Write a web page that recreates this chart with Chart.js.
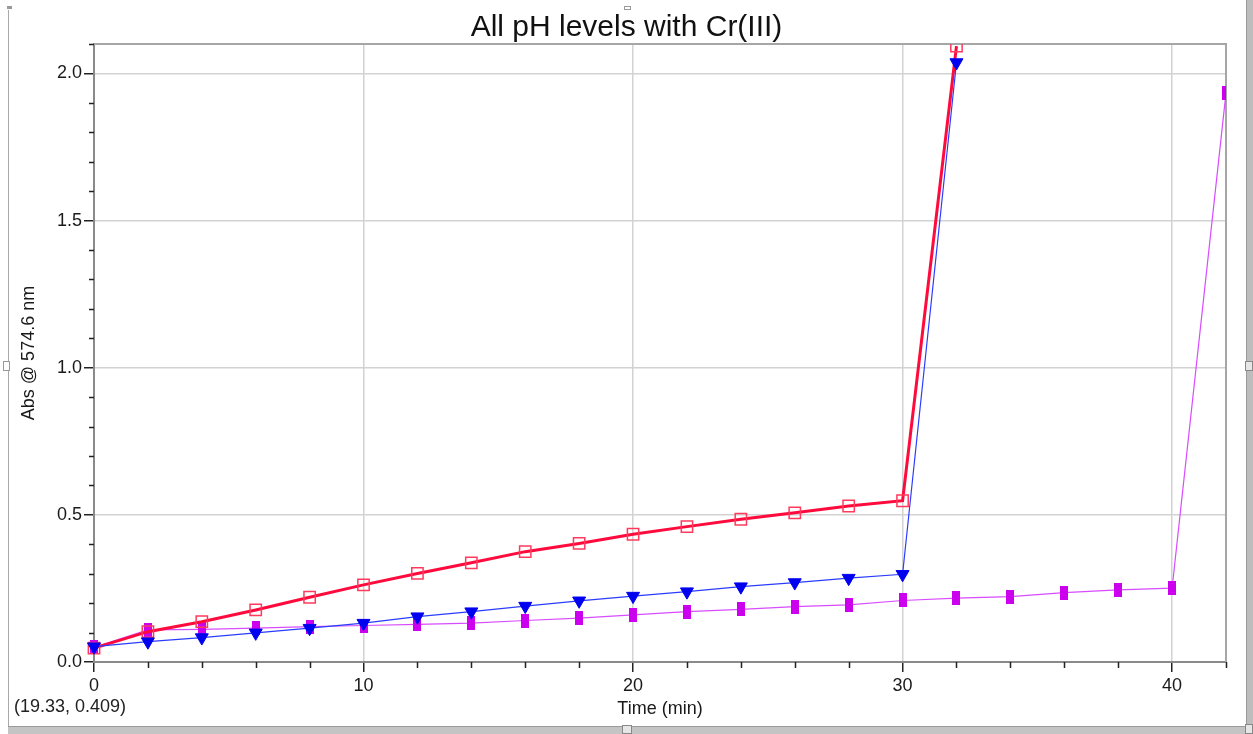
<!DOCTYPE html>
<html>
<head>
<meta charset="utf-8">
<script src="https://cdn.jsdelivr.net/npm/chart.js@4.4.1/dist/chart.umd.min.js"></script>
<style>
  html, body { margin: 0; padding: 0; background: #fff; overflow: hidden; }
  #wrap { position: relative; width: 1253px; height: 734px; }
  canvas { position: absolute; left: 0; top: 0; }
  .deco { position: absolute; box-sizing: border-box; }
  #readout { position: absolute; left: 14px; top: 696px; font: 18px Arial, "Liberation Sans", sans-serif; color: #222; white-space: nowrap; }
</style>
</head>
<body>
<div id="wrap">
  <div class="deco" style="left:8px;top:10px;width:1px;height:718px;background:#a8a8a8;"></div>
  <div class="deco" style="left:7px;top:6px;width:5px;height:3px;background:#999;"></div>
  <div class="deco" style="left:8px;top:726px;width:1245px;height:8px;background:#c4c4c4;border-top:1px solid #9a9a9a;"></div>
  <div class="deco" style="left:1246px;top:0;width:7px;height:734px;background:#bdbdbd;border-left:1px solid #9a9a9a;"></div>
  <div class="deco" style="left:624px;top:6px;width:7px;height:4px;background:#fff;border:1px solid #999;"></div>
  <div class="deco" style="left:3px;top:361px;width:7px;height:10px;background:#fff;border:1px solid #999;"></div>
  <div class="deco" style="left:622px;top:725px;width:10px;height:9px;background:#e6e6e6;border:1px solid #888;"></div>
  <div class="deco" style="left:1245px;top:361px;width:8px;height:10px;background:#e6e6e6;border:1px solid #888;"></div>
  <div class="deco" style="left:1245px;top:724px;width:8px;height:10px;background:#e6e6e6;border:1px solid #888;"></div>
  <canvas id="c" width="1253" height="734"></canvas>
  <div id="readout">(19.33, 0.409)</div>
</div>
<script>
// ---- Data ----
const chartTitle = "All pH levels with Cr(III)";
const xAxisTitle = "Time (min)";
const yAxisTitle = "Abs @ 574.6 nm";

const seriesNames = ["Series 1", "Series 2", "Series 3"];

const timeA = [0, 2, 4, 6, 8, 10, 12, 14, 16, 18, 20, 22, 24, 26, 28, 30, 32];
const absRed = [0.047, 0.103, 0.137, 0.177, 0.220, 0.262, 0.301, 0.337, 0.375, 0.403, 0.434, 0.460, 0.485, 0.507, 0.530, 0.548, 2.093];
const absBlue = [0.052, 0.069, 0.083, 0.099, 0.115, 0.132, 0.154, 0.171, 0.190, 0.208, 0.224, 0.239, 0.256, 0.270, 0.285, 0.298, 2.037];

const timeB = [0, 2, 4, 6, 8, 10, 12, 14, 16, 18, 20, 22, 24, 26, 28, 30, 32, 34, 36, 38, 40, 42];
const absMagenta = [0.050, 0.109, 0.111, 0.115, 0.120, 0.124, 0.128, 0.132, 0.141, 0.149, 0.160, 0.171, 0.179, 0.188, 0.194, 0.209, 0.217, 0.222, 0.236, 0.245, 0.251, 1.934];

const xMin = 0, xMax = 42, xMajor = 10, xMinor = 2;
const yMin = 0, yMax = 2.1, yMajor = 0.5, yMinor = 0.1;

// ---- Helpers ----
const pts = (xs, ys) => xs.map((x, i) => ({ x: x, y: ys[i] }));
const FONT = 'Arial, "Liberation Sans", sans-serif';

// tall filled rectangle marker for the magenta series
const magMarker = document.createElement('canvas');
magMarker.width = 8; magMarker.height = 14;
(function () {
  const g = magMarker.getContext('2d');
  g.fillStyle = '#cc00ee';
  g.fillRect(0, 0, 8, 14);
})();

const frameAndMinorTicks = {
  id: 'frameAndMinorTicks',
  beforeDatasetsDraw(chart) {
    const { ctx, chartArea: a } = chart;
    ctx.save();
    ctx.strokeStyle = '#a6a6a6';
    ctx.lineWidth = 2;
    ctx.beginPath();
    ctx.moveTo(a.left, a.top);
    ctx.lineTo(a.right, a.top);
    ctx.lineTo(a.right, a.bottom);
    ctx.stroke();
    ctx.restore();
  },
  afterDraw(chart) {
    const { ctx, chartArea: a, scales } = chart;
    const xs = scales.x, ys = scales.y;
    ctx.save();
    ctx.strokeStyle = '#222';
    ctx.lineWidth = 1.5;
    ctx.beginPath();
    const nx = Math.round((xMax - xMin) / xMinor);
    for (let i = 0; i <= nx; i++) {
      const v = xMin + i * xMinor;
      if (Math.abs(v / xMajor - Math.round(v / xMajor)) < 1e-6) continue;
      const px = Math.round(xs.getPixelForValue(v)) + 0.5;
      ctx.moveTo(px, a.bottom);
      ctx.lineTo(px, a.bottom + 6);
    }
    const ny = Math.round((yMax - yMin) / yMinor);
    for (let i = 0; i <= ny; i++) {
      const v = yMin + i * yMinor;
      if (Math.abs(v / yMajor - Math.round(v / yMajor)) < 1e-6) continue;
      const py = Math.round(ys.getPixelForValue(v)) + 0.5;
      ctx.moveTo(a.left - 5, py);
      ctx.lineTo(a.left, py);
    }
    ctx.stroke();
    ctx.restore();
  }
};

new Chart(document.getElementById('c'), {
  type: 'line',
  data: {
    datasets: [
      {
        label: seriesNames[1],
        data: pts(timeA, absBlue),
        borderColor: '#2a3cff',
        borderWidth: 1.2,
        pointStyle: 'triangle',
        rotation: 180,
        pointRadius: 7.5,
        pointBackgroundColor: '#0000f0',
        pointBorderColor: '#0000f0',
        pointBorderWidth: 1,
        order: 0,
        clip: { left: 10, top: 0, right: 0, bottom: 10 }
      },
      {
        label: seriesNames[0],
        data: pts(timeA, absRed),
        borderColor: '#ff0a3c',
        borderWidth: 3,
        pointStyle: 'rect',
        pointRadius: 8,
        pointBackgroundColor: 'rgba(0,0,0,0)',
        pointBorderColor: '#ff3a5c',
        pointBorderWidth: 1.5,
        order: 1,
        clip: { left: 10, top: 0, right: 0, bottom: 10 }
      },
      {
        label: seriesNames[2],
        data: pts(timeB, absMagenta),
        borderColor: '#d84cff',
        borderWidth: 1.2,
        pointStyle: magMarker,
        pointRadius: 7,
        order: 2,
        clip: { left: 10, top: 0, right: 0, bottom: 10 }
      }
    ]
  },
  options: {
    responsive: false,
    animation: false,
    devicePixelRatio: 1,
    layout: { padding: { left: 0, right: 0, top: 0, bottom: 0 } },
    elements: { line: { tension: 0 } },
    plugins: {
      legend: { display: false },
      tooltip: { enabled: false },
      title: {
        display: true,
        text: chartTitle,
        color: '#111',
        font: { family: FONT, size: 30, weight: 'normal', lineHeight: 1.0 },
        padding: { top: 13, bottom: 1 }
      }
    },
    scales: {
      x: {
        type: 'linear',
        min: xMin, max: xMax,
        afterFit(s) { s.height = 72; },
        ticks: {
          stepSize: xMajor,
          includeBounds: false,
          color: '#1a1a1a',
          padding: 3,
          maxRotation: 0,
          font: { family: FONT, size: 18 }
        },
        grid: {
          color: '#d2d2d2',
          lineWidth: 1.5,
          tickLength: 10,
          tickColor: '#222',
          tickWidth: 1.5
        },
        border: { color: '#8a8a8a', width: 2 },
        title: {
          display: true,
          text: xAxisTitle,
          color: '#1a1a1a',
          font: { family: FONT, size: 18 },
          padding: { top: 0, bottom: 14 }
        }
      },
      y: {
        type: 'linear',
        min: yMin, max: yMax,
        afterFit(s) { s.width = 94; },
        ticks: {
          stepSize: yMajor,
          includeBounds: false,
          color: '#1a1a1a',
          padding: 2,
          font: { family: FONT, size: 18 },
          callback: v => Number(v).toFixed(1)
        },
        grid: {
          color: '#d2d2d2',
          lineWidth: 1.5,
          tickLength: 10,
          tickColor: '#222',
          tickWidth: 1.5
        },
        border: { color: '#8a8a8a', width: 2 },
        title: {
          display: true,
          text: yAxisTitle,
          color: '#1a1a1a',
          font: { family: FONT, size: 18 },
          padding: { top: 18, bottom: 0 }
        }
      },
      yRightSpace: {
        type: 'linear',
        position: 'right',
        display: true,
        afterFit(s) { s.width = 27; },
        ticks: { display: false },
        grid: { display: false, drawTicks: false },
        border: { display: false },
        title: { display: false }
      }
    }
  },
  plugins: [frameAndMinorTicks]
});
</script>
</body>
</html>
